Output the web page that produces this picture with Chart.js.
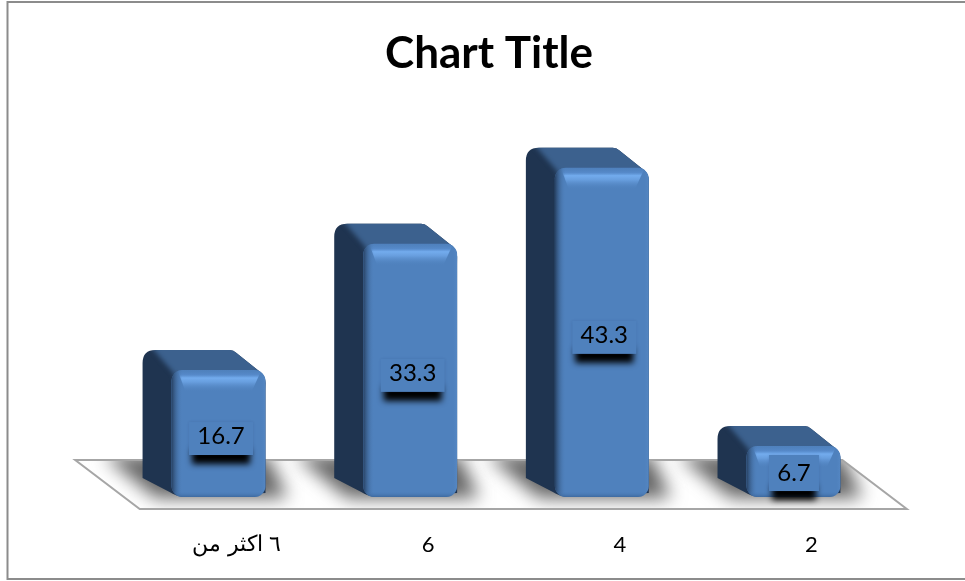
<!DOCTYPE html>
<html><head><meta charset="utf-8">
<style>html,body{margin:0;padding:0;background:#fff}canvas{display:block}</style>
<script src="https://cdn.jsdelivr.net/npm/chart.js@4"></script>
</head><body><canvas id="c" width="965" height="581"></canvas>
<script>
const categories = ["٦ اكثر من", "6", "4", "2"];
const values = [16.7, 33.3, 43.3, 6.7];
const valueLabels = ["16.7", "33.3", "43.3", "6.7"];
const chartTitle = "Chart Title";

const DX = -29, DY = -20, R = 11;

function rr(ctx, x, y, w, h, r) {
  ctx.beginPath();
  ctx.roundRect(x, y, w, h, r);
}
const floorPlugin = {
  id: 'floor3d',
  beforeDraw(chart) {
    const ctx = chart.ctx;
    ctx.save();
    ctx.strokeStyle = '#8c8c8c';
    ctx.lineWidth = 2;
    ctx.beginPath();
    ctx.moveTo(965, 2); ctx.lineTo(7.5, 2); ctx.lineTo(7.5, 579); ctx.lineTo(965, 579);
    ctx.stroke();
    ctx.restore();
  },
  beforeDatasetsDraw(chart) {
    const ctx = chart.ctx, a = chart.chartArea;
    const yb = a.bottom, fb = yb + 12, bk = yb - 37;
    const fl = a.left + 17, fr = a.right + 17.5, bl = a.left - 47.5, br = a.right - 47;
    const floor = () => { ctx.beginPath(); ctx.moveTo(bl, bk); ctx.lineTo(br, bk); ctx.lineTo(fr, fb); ctx.lineTo(fl, fb); ctx.closePath(); };
    ctx.save();
    floor(); ctx.fillStyle = '#ffffff'; ctx.fill();
    ctx.save();
    floor(); ctx.clip();
    ctx.filter = 'blur(9px)';
    ctx.fillStyle = 'rgba(70,70,70,0.85)';
    chart.getDatasetMeta(0).data.forEach(b => {
      const l = b.x - b.width / 2, r = b.x + b.width / 2;
      ctx.beginPath();
      ctx.moveTo(l - 68, yb - 42);
      ctx.lineTo(r + 2, yb - 42);
      ctx.lineTo(r + 22, yb + 1);
      ctx.lineTo(l - 16, yb + 1);
      ctx.closePath();
      ctx.fill();
    });
    ctx.restore();
    floor(); ctx.strokeStyle = '#a6a6a6'; ctx.lineWidth = 2; ctx.stroke();
    ctx.restore();
    // depth faces of every bar
    chart.getDatasetMeta(0).data.forEach(b => {
      const l = b.x - b.width / 2, r = b.x + b.width / 2, t = b.y, bt = b.base;
      ctx.save();
      ctx.beginPath();
      ctx.moveTo(l + 12, bt);
      ctx.quadraticCurveTo(l + 4, bt - 1, l - 2, bt - 5);
      ctx.lineTo(l + DX, bt + DY + 1);
      ctx.lineTo(l + DX, t + DY + R + 2);
      ctx.quadraticCurveTo(l + DX, t + DY, l + DX + R + 2, t + DY);
      ctx.lineTo(r + DX - 7, t + DY);
      ctx.quadraticCurveTo(r + DX - 3, t + DY, r + DX, t + DY + 3);
      ctx.lineTo(r - 4, t + 3);
      ctx.quadraticCurveTo(r, t + 7, r, t + R + 2);
      ctx.lineTo(r, bt - 4);
      ctx.closePath();
      ctx.fillStyle = '#1f3450';
      ctx.fill();
      ctx.clip();
      // top face with a soft ridge towards the left face
      ctx.filter = 'blur(2.5px)';
      ctx.beginPath();
      ctx.moveTo(l + DX + 6, t + DY - 6);
      ctx.lineTo(r + 6, t + DY - 6);
      ctx.lineTo(r + 6, t + 16);
      ctx.lineTo(l + 6, t + 16);
      ctx.lineTo(l + 2, t + 3);
      ctx.closePath();
      ctx.fillStyle = '#3c618e';
      ctx.fill();
      ctx.restore();
    });
  },
  afterDatasetsDraw(chart) {
    const ctx = chart.ctx;
    const ds = chart.getDatasetMeta(0).data;
    ds.forEach((b) => {
      const l = b.x - b.width / 2, r = b.x + b.width / 2, t = b.y, bt = b.base, w = b.width, h = bt - t;
      ctx.save();
      rr(ctx, l, t, w, h, R); ctx.clip();
      // top bevel highlight
      let g = ctx.createLinearGradient(0, t, 0, t + 22);
      g.addColorStop(0, 'rgba(79,129,189,0.3)');
      g.addColorStop(0.22, 'rgba(88,140,205,0.8)');
      g.addColorStop(0.36, 'rgba(115,172,238,1)');
      g.addColorStop(0.55, 'rgba(108,163,228,0.85)');
      g.addColorStop(1, 'rgba(79,129,189,0)');
      ctx.fillStyle = g;
      ctx.beginPath();
      ctx.moveTo(l + 6, t); ctx.lineTo(r - 4, t); ctx.lineTo(r - 14, t + 22); ctx.lineTo(l + 14, t + 22);
      ctx.closePath(); ctx.fill();
      // left bevel
      g = ctx.createLinearGradient(l - 1, 0, l + 11, 0);
      g.addColorStop(0, 'rgba(31,52,80,1)');
      g.addColorStop(1, 'rgba(79,129,189,0)');
      ctx.fillStyle = g; ctx.fillRect(l, t, 12, h);
      // right bevel
      g = ctx.createLinearGradient(r - 5, 0, r, 0);
      g.addColorStop(0, 'rgba(79,129,189,0)');
      g.addColorStop(1, 'rgba(100,150,210,0.3)');
      ctx.fillStyle = g; ctx.fillRect(r - 5, t, 5, h);
      // bottom bevel
      g = ctx.createLinearGradient(0, bt - 6, 0, bt);
      g.addColorStop(0, 'rgba(79,129,189,0)');
      g.addColorStop(1, 'rgba(50,90,140,0.6)');
      ctx.fillStyle = g; ctx.fillRect(l, bt - 6, w, 6);
      ctx.restore();
    });
    // data labels with shadowed box
    ctx.save();
    ctx.font = '24px Lato, "Open Sans", sans-serif';
    ctx.textAlign = 'center';
    ctx.textBaseline = 'middle';
    ds.forEach((b, i) => {
      const small = i === 3;
      const cx = b.x + (small ? 0.5 : 2.5), cy = (b.y + b.base) / 2 + (small ? 1.5 : 5);
      const bw = small ? 50 : 64, bh = small ? 36 : 33;
      ctx.save();
      ctx.filter = 'blur(3px)';
      ctx.fillStyle = '#000';
      ctx.fillRect(cx - bw / 2 + 3, cy + bh / 2 - 6, bw - 6, 15);
      ctx.restore();
      ctx.save();
      ctx.shadowColor = 'rgba(20,40,70,0.18)';
      ctx.shadowBlur = 3;
      ctx.fillStyle = '#4f81bd';
      ctx.fillRect(cx - bw / 2, cy - bh / 2, bw, bh);
      ctx.restore();
      ctx.fillStyle = '#000';
      ctx.fillText(valueLabels[i], cx, cy - (small ? 0 : 2.5));
    });
    ctx.restore();
  }
};

new Chart(document.getElementById('c'), {
  type: 'bar',
  data: {
    labels: categories,
    datasets: [{
      data: values,
      backgroundColor: '#4f81bd',
      borderWidth: 0,
      borderRadius: R,
      borderSkipped: false,
      barPercentage: 0.49,
      categoryPercentage: 1
    }]
  },
  plugins: [floorPlugin],
  options: {
    responsive: false,
    animation: false,
    layout: { padding: { left: 13, right: 0, top: 0, bottom: 0 } },
    plugins: {
      legend: { display: false },
      tooltip: { enabled: false },
      title: {
        display: true,
        text: chartTitle,
        color: '#000',
        font: { family: 'Lato, "Open Sans", sans-serif', size: 44, weight: 'bold', lineHeight: 1.2 },
        padding: { top: 27, bottom: 37 }
      }
    },
    scales: {
      x: {
        grid: { display: false },
        border: { display: false },
        afterFit(s) { s.height = 84; },
        ticks: {
          color: '#000',
          labelOffset: 18,
          padding: 27,
          maxRotation: 0,
          font: (c) => c.index === 0
            ? { family: '"Liberation Sans", sans-serif', size: 22 }
            : { family: 'Lato, sans-serif', size: 22 }
        }
      },
      y: {
        min: 0, max: 50,
        position: 'left',
        grid: { display: false },
        border: { display: false },
        ticks: { display: false },
        afterFit(s) { s.width = 109.7; }
      },
      yr: {
        min: 0, max: 50,
        position: 'right',
        grid: { display: false },
        border: { display: false },
        ticks: { display: false },
        afterFit(s) { s.width = 75.7; }
      }
    }
  }
});
</script></body></html>
